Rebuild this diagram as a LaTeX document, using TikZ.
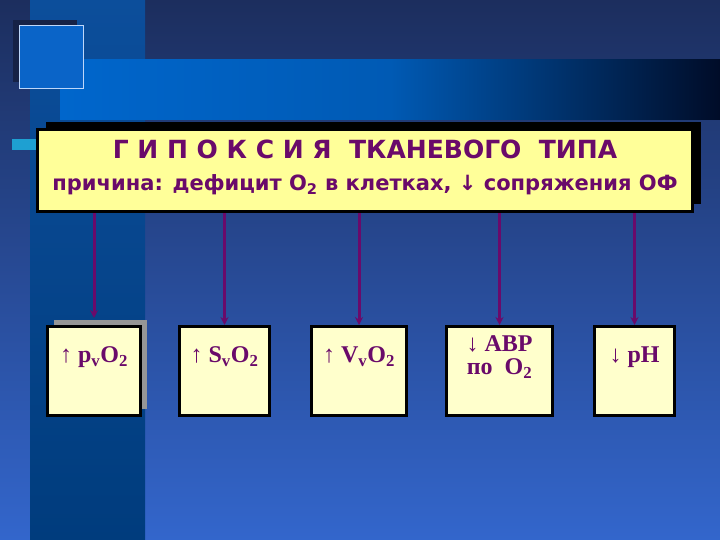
\documentclass[tikz,border=0pt]{standalone}
\usepackage{fontspec}
\setmainfont{Liberation Serif}
\newfontfamily\headfont{DejaVu Sans}
\usepackage{xcolor}
\usetikzlibrary{positioning, shadows, arrows.meta}
\definecolor{bgtop}{RGB}{28,46,94}
\definecolor{bgbot}{RGB}{51,102,204}
\definecolor{coltop}{RGB}{12,78,155}
\definecolor{colbot}{RGB}{0,60,125}
\definecolor{bandl}{RGB}{0,102,204}
\definecolor{bandm}{RGB}{0,90,180}
\definecolor{bandr}{RGB}{0,12,40}
\definecolor{sqdark}{RGB}{22,34,70}
\definecolor{sqblue}{RGB}{10,100,200}
\definecolor{sqline}{RGB}{190,215,250}
\definecolor{cyanbar}{RGB}{30,160,210}
\definecolor{hyppurple}{RGB}{106,10,106}
\definecolor{hypyellow}{RGB}{255,255,153}
\definecolor{signyellow}{RGB}{255,255,204}
\definecolor{shadowgrey}{RGB}{150,150,150}

\begin{document}
\begin{tikzpicture}[x=1pt, y=1pt, mainbox/.style={draw=black, line width=3pt, fill=hypyellow, text=hyppurple, minimum width=655pt, minimum height=82pt, inner ysep=0pt, text height=61.5pt, text depth=20.5pt, align=center, font=\headfont\bfseries\fontsize{21}{32}\selectfont, drop shadow={shadow xshift=8pt, shadow yshift=7pt, fill=black, opacity=1}}, signbox/.style={draw=black, line width=3pt, fill=signyellow, text=hyppurple, minimum height=89pt, inner ysep=0pt, text height=36.5pt, text depth=52.5pt, font=\bfseries\fontsize{24}{23}\selectfont}, link/.style={-{Stealth[length=8pt, width=8pt]}, draw=hyppurple, line width=3pt}]
            \useasboundingbox (0,0) rectangle (720,540);
            % background
            \shade[top color=bgtop, bottom color=bgbot] (0,0) rectangle (720,540);
            \shade[top color=coltop, bottom color=colbot] (30,0) rectangle (145,540);
            \shade[left color=bandl, right color=bandr, middle color=bandm] (60,420) rectangle (720,480);
            \fill[sqdark] (13,458) rectangle (77,520);
            \filldraw[fill=sqblue, draw=sqline, line width=1pt] (19,451) rectangle (83,514);
            \fill[cyanbar] (12,390) rectangle (36,401);
            % level 0
            \node[mainbox] (hyp) at (365,369.5) {{\fontsize{25}{32}\selectfont Г И П О К С И Я\ \ ТКАНЕВОГО\ \ ТИПА}\\причина: дефицит O\textsubscript{2} в клетках, ↓ сопряжения ОФ};
            % level 1
            \node[signbox, minimum width=93pt, below right=112pt and 10pt of hyp.south west, drop shadow={shadow xshift=6pt, shadow yshift=6pt, fill=shadowgrey, opacity=1}] (s1) {↑ p\textsubscript{v}O\textsubscript{2}};
            \node[signbox, minimum width=90pt, right=36pt of s1] (s2) {↑ S\textsubscript{v}O\textsubscript{2}};
            \node[signbox, minimum width=95pt, right=39pt of s2] (s3) {↑ V\textsubscript{v}O\textsubscript{2}};
            \node[signbox, minimum width=106pt, right=37pt of s3, align=center, text height=48.5pt, text depth=40.5pt] (s4) {↓ АВР\\по\ \ O\textsubscript{2}};
            \node[signbox, minimum width=80pt, right=39pt of s4] (s5) {↓ pH};
            % links
            \draw[link, shorten >=7pt] (s1 |- hyp.south)--(s1);
            \draw[link] (s2 |- hyp.south)--(s2);
            \draw[link] (s3 |- hyp.south)--(s3);
            \draw[link] (s4 |- hyp.south)--(s4);
            \draw[link] (s5 |- hyp.south)--(s5);
\end{tikzpicture}
\end{document}
